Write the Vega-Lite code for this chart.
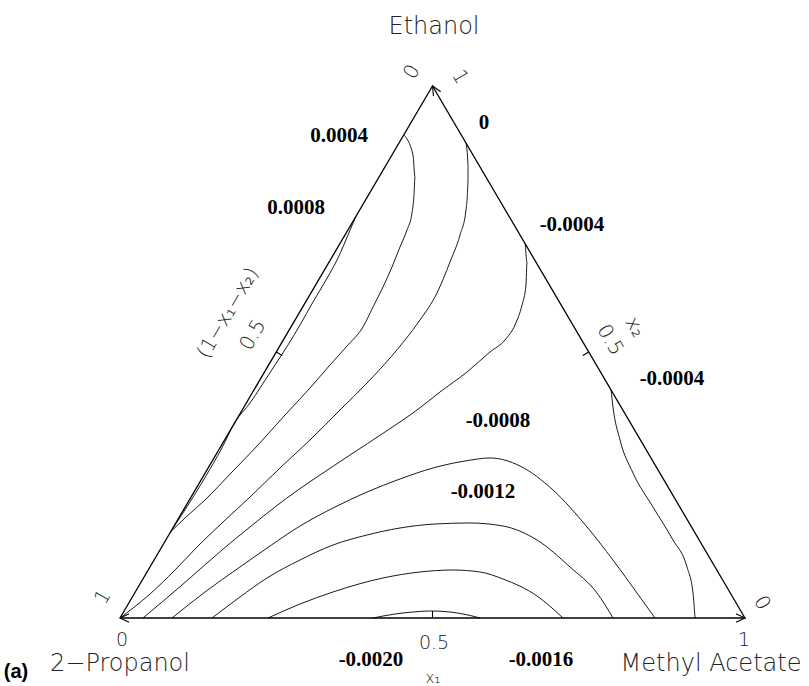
{
  "$schema": "https://vega.github.io/schema/vega-lite/v6.json",
  "width": 809,
  "height": 686,
  "autosize": {"type": "none"},
  "padding": 0,
  "background": "white",
  "config": {"view": {"stroke": null}},
  "datasets": {
    "paths": [
      {"set": "frame", "id": "frame", "k": 1, "X": 0, "Y": 0},
      {"set": "frame", "id": "frame", "k": 2, "X": 0.5, "Y": 1},
      {"set": "frame", "id": "frame", "k": 3, "X": 1, "Y": 0},
      {"set": "frame", "id": "frame", "k": 4, "X": 0, "Y": 0},

      {"set": "mark", "id": "tickL", "k": 1, "X": 0.25, "Y": 0.5},
      {"set": "mark", "id": "tickL", "k": 2, "X": 0.2597, "Y": 0.4934},
      {"set": "mark", "id": "tickR", "k": 1, "X": 0.75, "Y": 0.5},
      {"set": "mark", "id": "tickR", "k": 2, "X": 0.7404, "Y": 0.4934},
      {"set": "mark", "id": "tickB", "k": 1, "X": 0.5, "Y": 0},
      {"set": "mark", "id": "tickB", "k": 2, "X": 0.5, "Y": 0.0132},
      {"set": "mark", "id": "arrowR", "k": 1, "X": 0.9855, "Y": 0.0079},
      {"set": "mark", "id": "arrowR", "k": 2, "X": 1, "Y": 0},
      {"set": "mark", "id": "arrowR", "k": 3, "X": 0.9855, "Y": -0.0079},
      {"set": "mark", "id": "arrowT", "k": 1, "X": 0.5131, "Y": 0.9893},
      {"set": "mark", "id": "arrowT", "k": 2, "X": 0.5, "Y": 1},
      {"set": "mark", "id": "arrowT", "k": 3, "X": 0.5015, "Y": 0.9812},
      {"set": "mark", "id": "arrowL", "k": 1, "X": 0.0145, "Y": 0.0079},
      {"set": "mark", "id": "arrowL", "k": 2, "X": 0, "Y": 0},
      {"set": "mark", "id": "arrowL", "k": 3, "X": 0.0145, "Y": -0.0079},

      {"set": "contour", "id": "p0008", "k": 1, "X": 0.377, "Y": 0.754},
      {"set": "contour", "id": "p0008", "k": 2, "X": 0.3648, "Y": 0.7199},
      {"set": "contour", "id": "p0008", "k": 3, "X": 0.3488, "Y": 0.6767},
      {"set": "contour", "id": "p0008", "k": 4, "X": 0.3296, "Y": 0.6353},
      {"set": "contour", "id": "p0008", "k": 5, "X": 0.3088, "Y": 0.594},
      {"set": "contour", "id": "p0008", "k": 6, "X": 0.288, "Y": 0.5508},
      {"set": "contour", "id": "p0008", "k": 7, "X": 0.2688, "Y": 0.5132},
      {"set": "contour", "id": "p0008", "k": 8, "X": 0.248, "Y": 0.4756},
      {"set": "contour", "id": "p0008", "k": 9, "X": 0.2272, "Y": 0.438},
      {"set": "contour", "id": "p0008", "k": 10, "X": 0.208, "Y": 0.4041},
      {"set": "contour", "id": "p0008", "k": 11, "X": 0.1842, "Y": 0.3684},
      {"set": "contour", "id": "p0008", "k": 12, "X": 0.163, "Y": 0.3195},
      {"set": "contour", "id": "p0008", "k": 13, "X": 0.1356, "Y": 0.2632},
      {"set": "contour", "id": "p0008", "k": 14, "X": 0.0808, "Y": 0.1617},

      {"set": "contour", "id": "p0004", "k": 1, "X": 0.454, "Y": 0.908},
      {"set": "contour", "id": "p0004", "k": 2, "X": 0.4688, "Y": 0.8703},
      {"set": "contour", "id": "p0004", "k": 3, "X": 0.472, "Y": 0.8289},
      {"set": "contour", "id": "p0004", "k": 4, "X": 0.4704, "Y": 0.7951},
      {"set": "contour", "id": "p0004", "k": 5, "X": 0.4672, "Y": 0.7613},
      {"set": "contour", "id": "p0004", "k": 6, "X": 0.4592, "Y": 0.7293},
      {"set": "contour", "id": "p0004", "k": 7, "X": 0.448, "Y": 0.6974},
      {"set": "contour", "id": "p0004", "k": 8, "X": 0.4352, "Y": 0.6598},
      {"set": "contour", "id": "p0004", "k": 9, "X": 0.4208, "Y": 0.6222},
      {"set": "contour", "id": "p0004", "k": 10, "X": 0.4048, "Y": 0.5846},
      {"set": "contour", "id": "p0004", "k": 11, "X": 0.3888, "Y": 0.547},
      {"set": "contour", "id": "p0004", "k": 12, "X": 0.3648, "Y": 0.5132},
      {"set": "contour", "id": "p0004", "k": 13, "X": 0.336, "Y": 0.4756},
      {"set": "contour", "id": "p0004", "k": 14, "X": 0.304, "Y": 0.4323},
      {"set": "contour", "id": "p0004", "k": 15, "X": 0.264, "Y": 0.3816},
      {"set": "contour", "id": "p0004", "k": 16, "X": 0.2208, "Y": 0.3252},
      {"set": "contour", "id": "p0004", "k": 17, "X": 0.1792, "Y": 0.2744},
      {"set": "contour", "id": "p0004", "k": 18, "X": 0.136, "Y": 0.2218},
      {"set": "contour", "id": "p0004", "k": 19, "X": 0.1056, "Y": 0.1898},
      {"set": "contour", "id": "p0004", "k": 20, "X": 0.0808, "Y": 0.1617},

      {"set": "contour", "id": "z0", "k": 1, "X": 0.5536, "Y": 0.8929},
      {"set": "contour", "id": "z0", "k": 2, "X": 0.5568, "Y": 0.8515},
      {"set": "contour", "id": "z0", "k": 3, "X": 0.5568, "Y": 0.8233},
      {"set": "contour", "id": "z0", "k": 4, "X": 0.5536, "Y": 0.7669},
      {"set": "contour", "id": "z0", "k": 5, "X": 0.544, "Y": 0.7199},
      {"set": "contour", "id": "z0", "k": 6, "X": 0.528, "Y": 0.6692},
      {"set": "contour", "id": "z0", "k": 7, "X": 0.5072, "Y": 0.6109},
      {"set": "contour", "id": "z0", "k": 8, "X": 0.48, "Y": 0.5602},
      {"set": "contour", "id": "z0", "k": 9, "X": 0.456, "Y": 0.5226},
      {"set": "contour", "id": "z0", "k": 10, "X": 0.432, "Y": 0.4887},
      {"set": "contour", "id": "z0", "k": 11, "X": 0.3952, "Y": 0.4417},
      {"set": "contour", "id": "z0", "k": 12, "X": 0.352, "Y": 0.391},
      {"set": "contour", "id": "z0", "k": 13, "X": 0.304, "Y": 0.3346},
      {"set": "contour", "id": "z0", "k": 14, "X": 0.256, "Y": 0.282},
      {"set": "contour", "id": "z0", "k": 15, "X": 0.208, "Y": 0.2274},
      {"set": "contour", "id": "z0", "k": 16, "X": 0.1632, "Y": 0.1786},
      {"set": "contour", "id": "z0", "k": 17, "X": 0.1248, "Y": 0.1353},
      {"set": "contour", "id": "z0", "k": 18, "X": 0.088, "Y": 0.0902},
      {"set": "contour", "id": "z0", "k": 19, "X": 0.048, "Y": 0.0451},
      {"set": "contour", "id": "z0", "k": 20, "X": 0, "Y": 0},

      {"set": "contour", "id": "n0004a", "k": 1, "X": 0.6485, "Y": 0.703},
      {"set": "contour", "id": "n0004a", "k": 2, "X": 0.6512, "Y": 0.6692},
      {"set": "contour", "id": "n0004a", "k": 3, "X": 0.6496, "Y": 0.6259},
      {"set": "contour", "id": "n0004a", "k": 4, "X": 0.6432, "Y": 0.5883},
      {"set": "contour", "id": "n0004a", "k": 5, "X": 0.632, "Y": 0.5508},
      {"set": "contour", "id": "n0004a", "k": 6, "X": 0.616, "Y": 0.5226},
      {"set": "contour", "id": "n0004a", "k": 7, "X": 0.592, "Y": 0.5},
      {"set": "contour", "id": "n0004a", "k": 8, "X": 0.5552, "Y": 0.4624},
      {"set": "contour", "id": "n0004a", "k": 9, "X": 0.512, "Y": 0.4248},
      {"set": "contour", "id": "n0004a", "k": 10, "X": 0.4752, "Y": 0.391},
      {"set": "contour", "id": "n0004a", "k": 11, "X": 0.424, "Y": 0.3496},
      {"set": "contour", "id": "n0004a", "k": 12, "X": 0.368, "Y": 0.3064},
      {"set": "contour", "id": "n0004a", "k": 13, "X": 0.32, "Y": 0.2688},
      {"set": "contour", "id": "n0004a", "k": 14, "X": 0.2848, "Y": 0.2406},
      {"set": "contour", "id": "n0004a", "k": 15, "X": 0.248, "Y": 0.2086},
      {"set": "contour", "id": "n0004a", "k": 16, "X": 0.208, "Y": 0.1711},
      {"set": "contour", "id": "n0004a", "k": 17, "X": 0.1632, "Y": 0.1278},
      {"set": "contour", "id": "n0004a", "k": 18, "X": 0.0992, "Y": 0.062},
      {"set": "contour", "id": "n0004a", "k": 19, "X": 0.0368, "Y": 0},

      {"set": "contour", "id": "n0004b", "k": 1, "X": 0.7857, "Y": 0.4286},
      {"set": "contour", "id": "n0004b", "k": 2, "X": 0.7888, "Y": 0.3966},
      {"set": "contour", "id": "n0004b", "k": 3, "X": 0.8, "Y": 0.3346},
      {"set": "contour", "id": "n0004b", "k": 4, "X": 0.8208, "Y": 0.2726},
      {"set": "contour", "id": "n0004b", "k": 5, "X": 0.8528, "Y": 0.2086},
      {"set": "contour", "id": "n0004b", "k": 6, "X": 0.8848, "Y": 0.1466},
      {"set": "contour", "id": "n0004b", "k": 7, "X": 0.9072, "Y": 0.0959},
      {"set": "contour", "id": "n0004b", "k": 8, "X": 0.9168, "Y": 0.047},
      {"set": "contour", "id": "n0004b", "k": 9, "X": 0.92, "Y": 0},

      {"set": "contour", "id": "n0008", "k": 1, "X": 0.0832, "Y": 0},
      {"set": "contour", "id": "n0008", "k": 2, "X": 0.136, "Y": 0.0489},
      {"set": "contour", "id": "n0008", "k": 3, "X": 0.192, "Y": 0.0959},
      {"set": "contour", "id": "n0008", "k": 4, "X": 0.24, "Y": 0.1353},
      {"set": "contour", "id": "n0008", "k": 5, "X": 0.288, "Y": 0.1729},
      {"set": "contour", "id": "n0008", "k": 6, "X": 0.344, "Y": 0.2086},
      {"set": "contour", "id": "n0008", "k": 7, "X": 0.3952, "Y": 0.2368},
      {"set": "contour", "id": "n0008", "k": 8, "X": 0.448, "Y": 0.2613},
      {"set": "contour", "id": "n0008", "k": 9, "X": 0.5008, "Y": 0.282},
      {"set": "contour", "id": "n0008", "k": 10, "X": 0.552, "Y": 0.2951},
      {"set": "contour", "id": "n0008", "k": 11, "X": 0.592, "Y": 0.3008},
      {"set": "contour", "id": "n0008", "k": 12, "X": 0.64, "Y": 0.2857},
      {"set": "contour", "id": "n0008", "k": 13, "X": 0.6928, "Y": 0.2406},
      {"set": "contour", "id": "n0008", "k": 14, "X": 0.7472, "Y": 0.1711},
      {"set": "contour", "id": "n0008", "k": 15, "X": 0.7888, "Y": 0.109},
      {"set": "contour", "id": "n0008", "k": 16, "X": 0.8272, "Y": 0.047},
      {"set": "contour", "id": "n0008", "k": 17, "X": 0.856, "Y": 0},

      {"set": "contour", "id": "n0012", "k": 1, "X": 0.1472, "Y": 0},
      {"set": "contour", "id": "n0012", "k": 2, "X": 0.192, "Y": 0.0395},
      {"set": "contour", "id": "n0012", "k": 3, "X": 0.2352, "Y": 0.0752},
      {"set": "contour", "id": "n0012", "k": 4, "X": 0.288, "Y": 0.109},
      {"set": "contour", "id": "n0012", "k": 5, "X": 0.3408, "Y": 0.1372},
      {"set": "contour", "id": "n0012", "k": 6, "X": 0.3952, "Y": 0.156},
      {"set": "contour", "id": "n0012", "k": 7, "X": 0.448, "Y": 0.1692},
      {"set": "contour", "id": "n0012", "k": 8, "X": 0.504, "Y": 0.1767},
      {"set": "contour", "id": "n0012", "k": 9, "X": 0.56, "Y": 0.1786},
      {"set": "contour", "id": "n0012", "k": 10, "X": 0.6128, "Y": 0.1729},
      {"set": "contour", "id": "n0012", "k": 11, "X": 0.6672, "Y": 0.1466},
      {"set": "contour", "id": "n0012", "k": 12, "X": 0.72, "Y": 0.0959},
      {"set": "contour", "id": "n0012", "k": 13, "X": 0.7632, "Y": 0.047},
      {"set": "contour", "id": "n0012", "k": 14, "X": 0.7888, "Y": 0},

      {"set": "contour", "id": "n0016", "k": 1, "X": 0.2368, "Y": 0},
      {"set": "contour", "id": "n0016", "k": 2, "X": 0.288, "Y": 0.0263},
      {"set": "contour", "id": "n0016", "k": 3, "X": 0.3408, "Y": 0.0489},
      {"set": "contour", "id": "n0016", "k": 4, "X": 0.4208, "Y": 0.0752},
      {"set": "contour", "id": "n0016", "k": 5, "X": 0.48, "Y": 0.0865},
      {"set": "contour", "id": "n0016", "k": 6, "X": 0.5328, "Y": 0.0902},
      {"set": "contour", "id": "n0016", "k": 7, "X": 0.576, "Y": 0.0865},
      {"set": "contour", "id": "n0016", "k": 8, "X": 0.6128, "Y": 0.0733},
      {"set": "contour", "id": "n0016", "k": 9, "X": 0.6672, "Y": 0.0414},
      {"set": "contour", "id": "n0016", "k": 10, "X": 0.7088, "Y": 0},

      {"set": "contour", "id": "n0020", "k": 1, "X": 0.4048, "Y": 0},
      {"set": "contour", "id": "n0020", "k": 2, "X": 0.44, "Y": 0.0075},
      {"set": "contour", "id": "n0020", "k": 3, "X": 0.4688, "Y": 0.0113},
      {"set": "contour", "id": "n0020", "k": 4, "X": 0.496, "Y": 0.0132},
      {"set": "contour", "id": "n0020", "k": 5, "X": 0.528, "Y": 0.0113},
      {"set": "contour", "id": "n0020", "k": 6, "X": 0.5568, "Y": 0.0056},
      {"set": "contour", "id": "n0020", "k": 7, "X": 0.576, "Y": 0}
    ],
    "labels": [
      {"role": "name", "text": "Ethanol", "X": 0.5024, "Y": 1.1109},
      {"role": "name", "text": "2−Propanol", "X": 0.0, "Y": -0.0865},
      {"role": "name", "text": "Methyl  Acetate", "X": 0.9456, "Y": -0.0865},
      {"role": "panel", "text": "(a)", "X": -0.1664, "Y": -0.1015},
      {"role": "sub", "text": "x₁", "X": 0.5008, "Y": -0.1128},
      {"role": "tick", "text": "0", "X": 0.0032, "Y": -0.0414},
      {"role": "tick", "text": "0.5", "X": 0.5024, "Y": -0.0470},
      {"role": "tick", "text": "1", "X": 0.9984, "Y": -0.0414},
      {"role": "left", "text": "(1−x₁−x₂)", "X": 0.1728, "Y": 0.5733},
      {"role": "left", "text": "0.5", "X": 0.2128, "Y": 0.532},
      {"role": "left", "text": "1", "X": -0.0272, "Y": 0.0395},
      {"role": "left", "text": "0", "X": 0.4672, "Y": 1.0263},
      {"role": "right", "text": "0.5", "X": 0.784, "Y": 0.5226},
      {"role": "right", "text": "x₂", "X": 0.824, "Y": 0.547},
      {"role": "right", "text": "1", "X": 0.544, "Y": 1.0169},
      {"role": "right", "text": "0", "X": 1.0272, "Y": 0.0282},
      {"role": "level", "text": "0.0004", "X": 0.3504, "Y": 0.906},
      {"role": "level", "text": "0.0008", "X": 0.2816, "Y": 0.7707},
      {"role": "level", "text": "0", "X": 0.5824, "Y": 0.9305},
      {"role": "level", "text": "-0.0004", "X": 0.7232, "Y": 0.7387},
      {"role": "level", "text": "-0.0004", "X": 0.8832, "Y": 0.4492},
      {"role": "level", "text": "-0.0008", "X": 0.6048, "Y": 0.3703},
      {"role": "level", "text": "-0.0012", "X": 0.5808, "Y": 0.2368},
      {"role": "level", "text": "-0.0020", "X": 0.4016, "Y": -0.0789},
      {"role": "level", "text": "-0.0016", "X": 0.6736, "Y": -0.0789}
    ]
  },
  "encoding": {
    "x": {"field": "X", "type": "quantitative", "axis": null,
          "scale": {"domain": [-0.192, 1.1024], "nice": false, "zero": false}},
    "y": {"field": "Y", "type": "quantitative", "axis": null,
          "scale": {"domain": [-0.12782, 1.16165], "nice": false, "zero": false}}
  },
  "layer": [
    {
      "data": {"name": "paths"},
      "transform": [{"filter": "datum.set === 'contour'"}],
      "mark": {"type": "line", "color": "black", "strokeWidth": 0.9, "interpolate": "monotone"},
      "encoding": {"detail": {"field": "id"}, "order": {"field": "k", "type": "quantitative"}}
    },
    {
      "data": {"name": "paths"},
      "transform": [{"filter": "datum.set === 'frame'"}],
      "mark": {"type": "line", "color": "black", "strokeWidth": 1.3},
      "encoding": {"detail": {"field": "id"}, "order": {"field": "k", "type": "quantitative"}}
    },
    {
      "data": {"name": "paths"},
      "transform": [{"filter": "datum.set === 'mark'"}],
      "mark": {"type": "line", "color": "black", "strokeWidth": 1.1},
      "encoding": {"detail": {"field": "id"}, "order": {"field": "k", "type": "quantitative"}}
    },
    {
      "data": {"name": "labels"},
      "transform": [{"filter": "datum.role === 'name'"}],
      "mark": {"type": "text", "font": "DejaVu Sans", "fontWeight": 200, "fontSize": 24, "align": "center", "baseline": "middle", "color": "#222"},
      "encoding": {"text": {"field": "text"}}
    },
    {
      "data": {"name": "labels"},
      "transform": [{"filter": "datum.role === 'tick'"}],
      "mark": {"type": "text", "font": "DejaVu Sans", "fontWeight": 200, "fontSize": 19, "align": "center", "baseline": "middle", "color": "#222"},
      "encoding": {"text": {"field": "text"}}
    },
    {
      "data": {"name": "labels"},
      "transform": [{"filter": "datum.role === 'sub'"}],
      "mark": {"type": "text", "font": "DejaVu Sans", "fontWeight": 200, "fontSize": 15, "align": "center", "baseline": "middle", "color": "#222"},
      "encoding": {"text": {"field": "text"}}
    },
    {
      "data": {"name": "labels"},
      "transform": [{"filter": "datum.role === 'left'"}],
      "mark": {"type": "text", "font": "DejaVu Sans", "fontWeight": 200, "fontSize": 20, "align": "center", "baseline": "middle", "angle": -59.6, "color": "#222"},
      "encoding": {"text": {"field": "text"}}
    },
    {
      "data": {"name": "labels"},
      "transform": [{"filter": "datum.role === 'right'"}],
      "mark": {"type": "text", "font": "DejaVu Sans", "fontWeight": 200, "fontSize": 20, "align": "center", "baseline": "middle", "angle": 59.6, "color": "#222"},
      "encoding": {"text": {"field": "text"}}
    },
    {
      "data": {"name": "labels"},
      "transform": [{"filter": "datum.role === 'level'"}],
      "mark": {"type": "text", "font": "Liberation Serif", "fontWeight": "bold", "fontSize": 21, "align": "center", "baseline": "middle", "color": "black"},
      "encoding": {"text": {"field": "text"}}
    },
    {
      "data": {"name": "labels"},
      "transform": [{"filter": "datum.role === 'panel'"}],
      "mark": {"type": "text", "font": "Liberation Sans", "fontWeight": "bold", "fontSize": 20, "align": "center", "baseline": "middle", "color": "black"},
      "encoding": {"text": {"field": "text"}}
    }
  ]
}
